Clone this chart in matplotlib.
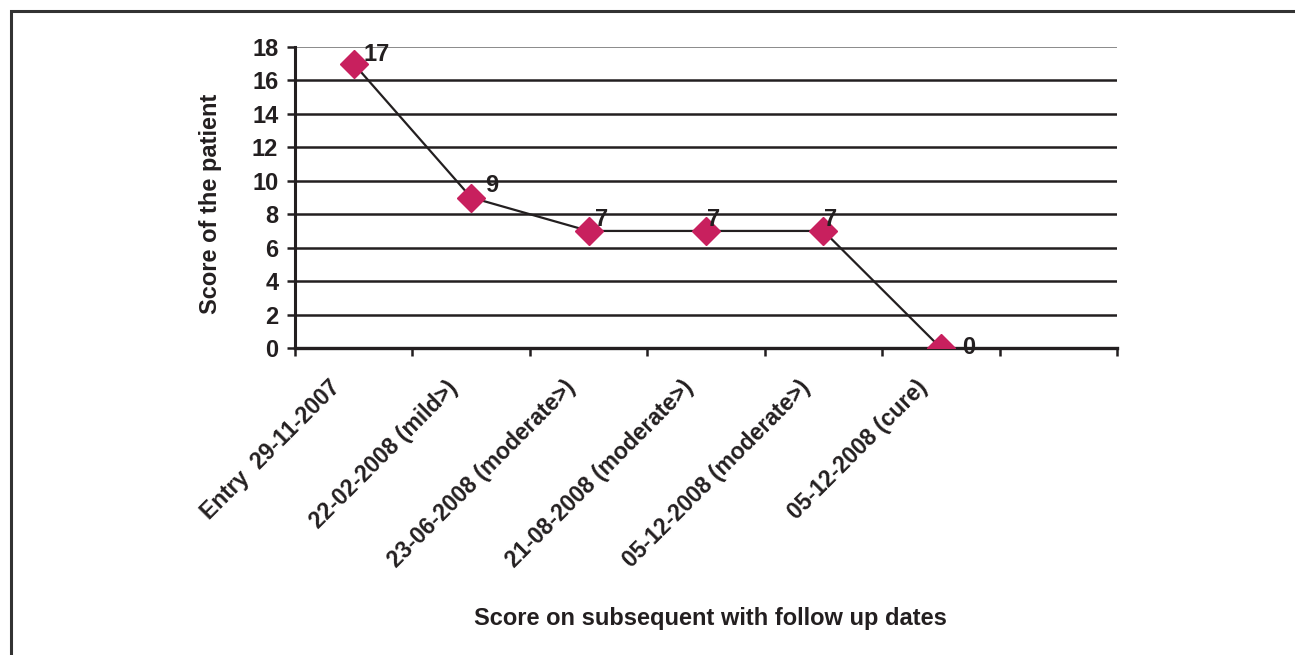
import matplotlib
matplotlib.use("Agg")
import matplotlib.pyplot as plt
from matplotlib.patches import Rectangle

categories = ["Entry  29-11-2007", "22-02-2008 (mild>)", "23-06-2008 (moderate>)",
              "21-08-2008 (moderate>)", "05-12-2008 (moderate>)", "05-12-2008 (cure)"]
scores = [17, 9, 7, 7, 7, 0]
n_slots = 7
yticks = [0, 2, 4, 6, 8, 10, 12, 14, 16, 18]

plt.rcParams['font.family'] = ['Liberation Sans', 'DejaVu Sans']
plt.rcParams['font.weight'] = 'bold'
FS = 17
TXT = '#231f20'

fig = plt.figure(figsize=(12.95, 6.55), dpi=100)
ax = fig.add_axes([295/1295, 1-348/655, 822/1295, 301/655])

# outer frame
fig.patches.append(Rectangle((11/1295, -0.5), 2.0, 0.5 + 1 - 11/655, transform=fig.transFigure,
                             fill=False, edgecolor='#333333', linewidth=2.2, zorder=0))

x = list(range(len(scores)))
ax.plot(x, scores, color=TXT, linewidth=1.6, zorder=3,
        marker='D', markersize=14, markerfacecolor='#C8205E', markeredgecolor='#C8205E')

label_offsets = [(7, 6.5), (10, 8.6), (4.3, 8.6), (0.7, 8.6), (0.7, 8.6), (15, 0)]
for i, v in enumerate(scores):
    dx, dy = label_offsets[i]
    ax.annotate(str(v), (i, v), xytext=(dx, dy), textcoords='offset points',
                ha='left', va='center', fontsize=FS, fontweight='bold', color=TXT, zorder=4)

ax.set_xlim(-0.5, n_slots - 0.5)
ax.set_ylim(0, 18)
ax.set_yticks(yticks)
ax.set_yticklabels([str(t) for t in yticks], fontsize=FS, fontweight='bold', color=TXT)

ax.set_xticks([i - 0.5 for i in range(n_slots + 1)])
ax.set_xticklabels([])
# category labels, rotated 45 degrees under each slot
for i, cat in enumerate(categories):
    ax.annotate(cat, xy=(i, 0), xycoords=('data', 'axes fraction'),
                xytext=(-12, -26), textcoords='offset points',
                rotation=45, ha='right', va='center', rotation_mode='anchor',
                fontsize=16.5, fontweight='bold', color=TXT, annotation_clip=False)

ax.tick_params(axis='x', which='major', length=6, width=1.8, color=TXT, direction='out')
ax.tick_params(axis='y', length=6, width=1.8, color=TXT, direction='out', pad=6)

ax.grid(axis='y', color=TXT, linewidth=1.8, zorder=1)
ax.set_axisbelow(True)
gl = ax.yaxis.get_gridlines()
gl[-1].set_color('#777777')
gl[-1].set_linewidth(1.2)

for s in ['top', 'right']:
    ax.spines[s].set_visible(False)
ax.spines['left'].set_linewidth(2.2)
ax.spines['left'].set_color(TXT)
ax.spines['bottom'].set_linewidth(2.4)
ax.spines['bottom'].set_color(TXT)

ax.set_ylabel("Score of the patient", fontsize=FS, fontweight='bold', color=TXT)
ax.yaxis.set_label_coords(-0.089, 0.48)
ax.set_xlabel("Score on subsequent with follow up dates", fontsize=FS, fontweight='bold', color=TXT)
ax.xaxis.set_label_coords(0.505, -0.860)

fig.savefig("out.png", dpi=100)
